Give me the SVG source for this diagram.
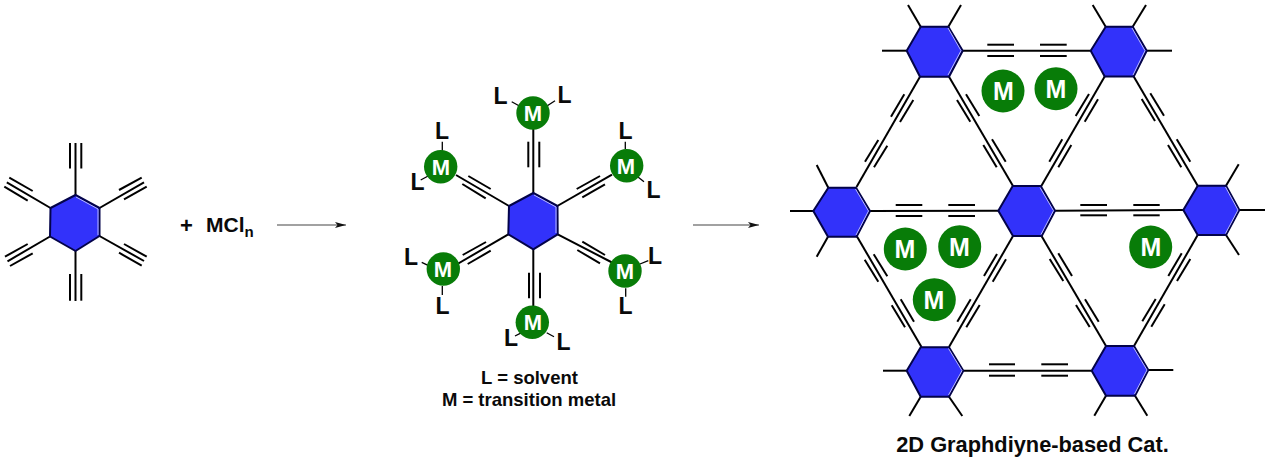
<svg xmlns="http://www.w3.org/2000/svg" width="1269" height="463" viewBox="0 0 1269 463">
<style>
text{font-family:"Liberation Sans",Arial,sans-serif;font-weight:700;text-anchor:middle;fill:#0a0a0a}
.m{fill:#fff;font-size:22px}
.mb{fill:#fff;font-size:25px}
.l{font-size:23px}
.cap{font-size:18.5px}
.c{fill:#087c08}
.h{fill:#3232fa;stroke:#03034a;stroke-width:2;stroke-linejoin:round}
.e{fill:none;stroke:#b9b9ff;stroke-width:1}
line{stroke:#000;stroke-width:2;stroke-linecap:butt}
.t{stroke-width:1.3}
.a{stroke:#444;stroke-width:1.1;marker-end:url(#ah)}
</style>
<defs><marker id="ah" markerUnits="userSpaceOnUse" markerWidth="12" markerHeight="8" refX="11" refY="3" orient="auto"><path d="M0 0L11 3L0 6L2.5 3Z" fill="#111"/></marker></defs>
<g id="connectors">
<line x1="75.5" y1="195" x2="75.5" y2="143"/><line x1="70" y1="143" x2="70" y2="168.5"/><line x1="81.3" y1="143" x2="81.3" y2="168.5"/>
<line x1="99.5" y1="208" x2="144" y2="182.3"/><line x1="119" y1="190" x2="141.7" y2="177.7"/><line x1="124" y1="199.3" x2="146.7" y2="186.7"/>
<line x1="50.5" y1="208" x2="6.8" y2="182.3"/><line x1="9.3" y1="177.7" x2="32.7" y2="191"/><line x1="4.3" y1="186.7" x2="27.7" y2="200.7"/>
<line x1="50" y1="236.5" x2="7.5" y2="261.3"/><line x1="5" y1="256.7" x2="27.7" y2="244"/><line x1="10" y1="266" x2="32.7" y2="253.3"/>
<line x1="99.5" y1="236" x2="144" y2="261"/><line x1="124" y1="244" x2="146.7" y2="256.7"/><line x1="119" y1="252.7" x2="141.7" y2="265.7"/>
<line x1="75.5" y1="251" x2="75.5" y2="301"/><line x1="70" y1="274" x2="70" y2="300.7"/><line x1="81.3" y1="274" x2="81.3" y2="300.7"/>

<line x1="533.3" y1="193" x2="533.3" y2="127"/><line x1="528.3" y1="141.7" x2="528.3" y2="167.3"/><line x1="539.3" y1="141.7" x2="539.3" y2="167.3"/>
<line x1="509" y1="206" x2="456" y2="175"/><line x1="468.3" y1="176" x2="490.7" y2="189"/><line x1="462.3" y1="184" x2="485.7" y2="198.3"/>
<line x1="557.3" y1="206" x2="612" y2="174.7"/><line x1="576.7" y1="189" x2="600" y2="176"/><line x1="582.3" y1="197.3" x2="605" y2="184.3"/>
<line x1="508.3" y1="234.3" x2="454" y2="266"/><line x1="462.7" y1="255" x2="486" y2="242"/><line x1="467.7" y1="264" x2="490.7" y2="250.7"/>
<line x1="557.7" y1="234.3" x2="613" y2="263"/><line x1="582.3" y1="241.7" x2="605" y2="255"/><line x1="577.3" y1="250" x2="600" y2="263.3"/>
<line x1="533.3" y1="249.3" x2="533.3" y2="306"/><line x1="529" y1="272.7" x2="529" y2="298.3"/><line x1="540" y1="272.7" x2="540" y2="298.3"/>

<line class="a" x1="277" y1="225" x2="346" y2="225"/>
<line class="a" x1="693" y1="225" x2="759" y2="225"/>

<line x1="962.7" y1="50.7" x2="1090.7" y2="50.7"/><line x1="987.3" y1="44.7" x2="1014" y2="44.7"/><line x1="987.3" y1="56" x2="1014" y2="56"/><line x1="1040" y1="44.7" x2="1066.7" y2="44.7"/><line x1="1040" y1="56" x2="1066.7" y2="56"/>
<line x1="870" y1="211" x2="998.3" y2="210.7"/><line x1="895.7" y1="205" x2="922.3" y2="205"/><line x1="895.7" y1="216" x2="922.3" y2="216"/><line x1="948.3" y1="205" x2="975" y2="205"/><line x1="948.3" y1="216" x2="975" y2="216"/>
<line x1="1055" y1="210.7" x2="1183.3" y2="210"/><line x1="1080.3" y1="205" x2="1107" y2="205"/><line x1="1080.3" y1="215.3" x2="1107" y2="215.3"/><line x1="1133.3" y1="205" x2="1159.7" y2="205"/><line x1="1133.3" y1="215.3" x2="1159.7" y2="215.3"/>
<line x1="963.3" y1="370.7" x2="1091.7" y2="370.7"/><line x1="989" y1="364.3" x2="1015" y2="364.3"/><line x1="989" y1="375.7" x2="1015" y2="375.7"/><line x1="1041.3" y1="364.3" x2="1068" y2="364.3"/><line x1="1041.3" y1="375.7" x2="1068" y2="375.7"/>

<line x1="920" y1="76.7" x2="856.5" y2="187"/><line x1="904.3" y1="94.3" x2="891" y2="116.7"/><line x1="913.3" y1="100" x2="900" y2="122"/><line x1="878.3" y1="140" x2="865" y2="161.7"/><line x1="887.3" y1="145.7" x2="874" y2="167.3"/>
<line x1="949" y1="76.7" x2="1013" y2="186"/><line x1="966" y1="94.3" x2="979.3" y2="116"/><line x1="957" y1="100" x2="970.3" y2="121.7"/><line x1="992" y1="139.3" x2="1005.7" y2="161.7"/><line x1="983.3" y1="145" x2="996.7" y2="167.3"/>
<line x1="1104.7" y1="76.5" x2="1041" y2="186.5"/><line x1="1089" y1="94" x2="1075.7" y2="116"/><line x1="1098" y1="99.3" x2="1084.7" y2="121.7"/><line x1="1062.3" y1="139.3" x2="1049.3" y2="161.7"/><line x1="1071.3" y1="145" x2="1058.3" y2="167.3"/>
<line x1="1133.7" y1="76.5" x2="1197.7" y2="185.7"/><line x1="1150.3" y1="93.3" x2="1164" y2="115.7"/><line x1="1141.7" y1="99" x2="1155" y2="121"/><line x1="1176.7" y1="139.3" x2="1190.3" y2="161.7"/><line x1="1168" y1="145" x2="1181.3" y2="167.3"/>
<line x1="1041.5" y1="236" x2="1106" y2="346"/><line x1="1058.3" y1="253.3" x2="1072" y2="276"/><line x1="1049.7" y1="259" x2="1063.3" y2="281"/><line x1="1085" y1="299.3" x2="1098.7" y2="321.7"/><line x1="1076" y1="305" x2="1089.7" y2="327"/>
<line x1="1197.7" y1="235" x2="1134" y2="346"/><line x1="1181.7" y1="253.3" x2="1168.3" y2="276"/><line x1="1190.3" y1="259" x2="1177" y2="281"/><line x1="1155.7" y1="299" x2="1142.3" y2="321.3"/><line x1="1164.7" y1="304.3" x2="1151.3" y2="326.7"/>
<line x1="857" y1="236.5" x2="921.5" y2="347"/><line x1="873.7" y1="254.3" x2="887.3" y2="276.3"/><line x1="864.7" y1="259.7" x2="878.3" y2="281.7"/><line x1="900.7" y1="299.3" x2="914" y2="321.7"/><line x1="891.7" y1="305.3" x2="905" y2="327.3"/>
<line x1="1013" y1="236" x2="949" y2="347"/><line x1="997" y1="254" x2="984" y2="276"/><line x1="1006" y1="259.3" x2="992.7" y2="281.7"/><line x1="970.7" y1="299.3" x2="957.3" y2="321.7"/><line x1="979.7" y1="305" x2="966.3" y2="327.3"/>

<line x1="906.7" y1="50.7" x2="882" y2="50.7"/><line x1="920.7" y1="26.7" x2="908" y2="5"/><line x1="948.3" y1="26.7" x2="961" y2="5"/>
<line x1="1105.7" y1="26.7" x2="1092.7" y2="5"/><line x1="1132.7" y1="26.7" x2="1146" y2="5"/><line x1="1146.7" y1="50.7" x2="1172" y2="50.7"/>
<line x1="828.3" y1="187.7" x2="816.7" y2="165"/><line x1="813.3" y1="211" x2="790" y2="211"/><line x1="828" y1="236.7" x2="816.7" y2="256.7"/>
<line x1="1239.3" y1="210" x2="1265" y2="210"/><line x1="1226" y1="185.7" x2="1238.7" y2="164.3"/><line x1="1226" y1="235" x2="1239" y2="255"/>
<line x1="906.7" y1="370.7" x2="883" y2="370.7"/><line x1="920.7" y1="396.7" x2="909.3" y2="416"/><line x1="949" y1="396.7" x2="962.3" y2="416"/>
<line x1="1148.3" y1="370" x2="1173.3" y2="370"/><line x1="1106" y1="395.7" x2="1094.3" y2="415.7"/><line x1="1135" y1="395.7" x2="1147.3" y2="415.7"/>
</g>

<g id="monomer"><polygon class="h" points="75.5,195 99.5,208 99.5,236 75.5,251 50,236.5 50.5,208"/><polyline class="e" points="76,197 98,209 98,235"/></g>
<g id="reagent">
<text x="186.5" y="232.5" style="font-size:22px">+</text>
<text x="206" y="232" style="font-size:21px;text-anchor:start">MCl<tspan dy="5" style="font-size:15px">n</tspan></text>
</g>

<g id="core"><polygon class="h" points="533.3,193 557.5,206 557.7,234.3 533.3,249.3 508.3,234.3 509,206"/><polyline class="e" points="534,195 556,207 556,233"/></g>
<g id="m-top"><line class="t" x1="511.7" y1="101.7" x2="521.7" y2="107.3"/><line class="t" x1="555" y1="100.7" x2="545" y2="107.3"/><circle class="c" cx="533" cy="113" r="16.7"/><text class="m" x="533" y="121">M</text><text class="l" x="500.5" y="103.5">L</text><text class="l" x="564.5" y="102.5">L</text></g>
<g id="m-upper-left"><line class="t" x1="442.3" y1="141.7" x2="442.3" y2="150.7"/><line class="t" x1="420.7" y1="180" x2="430" y2="175"/><circle class="c" cx="440.7" cy="166.7" r="16.7"/><text class="m" x="441" y="174.5">M</text><text class="l" x="442" y="139">L</text><text class="l" x="417.5" y="189.5">L</text></g>
<g id="m-upper-right"><line class="t" x1="625.3" y1="141.7" x2="625.3" y2="149.3"/><line class="t" x1="636.7" y1="176" x2="644" y2="181.7"/><circle class="c" cx="626.7" cy="165.7" r="16.7"/><text class="m" x="626" y="173.5">M</text><text class="l" x="625.5" y="139">L</text><text class="l" x="653.5" y="197.5">L</text></g>
<g id="m-lower-left"><line class="t" x1="421.7" y1="262.3" x2="430.7" y2="266.7"/><line class="t" x1="442.3" y1="286" x2="442.3" y2="295"/><circle class="c" cx="443.3" cy="269" r="16.7"/><text class="m" x="443" y="277">M</text><text class="l" x="411" y="264.5">L</text><text class="l" x="442.5" y="313.5">L</text></g>
<g id="m-lower-right"><line class="t" x1="640" y1="264" x2="648.3" y2="260.7"/><line class="t" x1="625.7" y1="288.3" x2="625.7" y2="296.7"/><circle class="c" cx="625" cy="271" r="16.7"/><text class="m" x="625" y="279">M</text><text class="l" x="655" y="263.5">L</text><text class="l" x="625.5" y="314">L</text></g>
<g id="m-bottom"><line class="t" x1="515" y1="336" x2="521.7" y2="332.7"/><line class="t" x1="546.7" y1="332.7" x2="554" y2="336.7"/><circle class="c" cx="532.3" cy="322.3" r="16.7"/><text class="m" x="533" y="330">M</text><text class="l" x="511" y="346">L</text><text class="l" x="563.5" y="350">L</text></g>
<g id="legend"><text class="cap" x="529.5" y="384">L = solvent</text><text class="cap" x="529" y="405.7">M = transition metal</text></g>

<g id="hex-tl"><polygon class="h" points="906.7,50.7 920.7,26.7 948.3,26.7 962.7,50.7 949,76.7 920,76.7"/><polyline class="e" points="948,28 961,50.7 948,75"/></g>
<g id="hex-tr"><polygon class="h" points="1090.7,50.7 1105.7,26.7 1132.7,26.7 1146.7,50.7 1133.7,76.5 1104.7,76.5"/><polyline class="e" points="1132,28 1145,50.7 1133,75"/></g>
<g id="hex-ml"><polygon class="h" points="813.3,211 828.3,187.7 856,187.7 870,211 856.5,236.7 828,236.7"/><polyline class="e" points="855.5,189 868.5,211 856,235"/></g>
<g id="hex-c"><polygon class="h" points="998.3,210.7 1012.7,186 1040.7,186 1055,210.7 1041.7,236 1013,236"/><polyline class="e" points="1040,187.5 1053.5,210.7 1041,234.5"/></g>
<g id="hex-mr"><polygon class="h" points="1183.3,210 1197.7,185.7 1226,185.7 1239.3,210 1226,235 1197.7,235"/><polyline class="e" points="1225.5,187 1238,210 1225.5,233.5"/></g>
<g id="hex-bl"><polygon class="h" points="906.7,370.7 920.7,347.3 949,347.3 963.3,370.7 949,396.7 920.7,396.7"/><polyline class="e" points="948.5,348.5 962,370.7 948.5,395"/></g>
<g id="hex-br"><polygon class="h" points="1091.7,370.7 1106,346 1134,346 1148.3,370 1135,395.7 1106,395.7"/><polyline class="e" points="1133.5,347.5 1147,370 1134.5,394"/></g>

<g id="metal-1"><circle class="c" cx="1003" cy="91" r="21.5"/><text class="mb" x="1003.5" y="100">M</text></g>
<g id="metal-2"><circle class="c" cx="1056" cy="88.7" r="21.5"/><text class="mb" x="1056" y="97.5">M</text></g>
<g id="metal-3"><circle class="c" cx="905.3" cy="249" r="21.5"/><text class="mb" x="905" y="258">M</text></g>
<g id="metal-4"><circle class="c" cx="959.7" cy="246.7" r="21.5"/><text class="mb" x="959.5" y="255.5">M</text></g>
<g id="metal-5"><circle class="c" cx="934.3" cy="299.7" r="21.5"/><text class="mb" x="934" y="308.5">M</text></g>
<g id="metal-6"><circle class="c" cx="1150.7" cy="247" r="21.5"/><text class="mb" x="1151" y="256">M</text></g>
<text id="title" x="1032.5" y="451.7" style="font-size:21.8px">2D Graphdiyne-based Cat.</text>
</svg>
